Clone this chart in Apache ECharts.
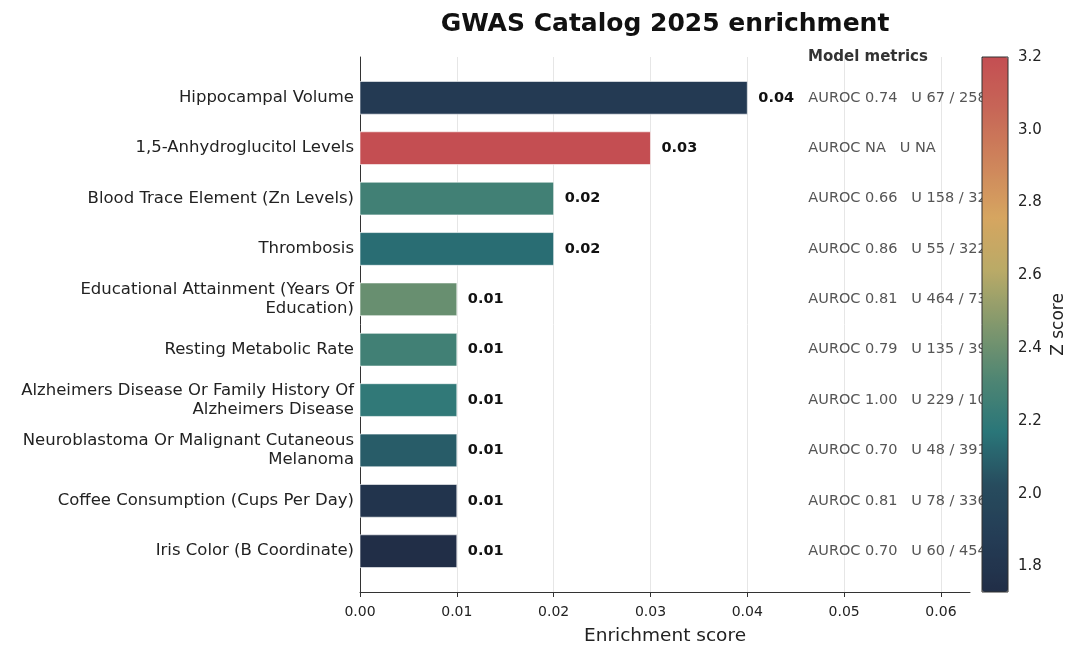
<!DOCTYPE html>
<html>
<head>
<meta charset="utf-8">
<script src="https://cdn.jsdelivr.net/npm/echarts@6/dist/echarts.min.js"></script>
<style>
  html, body { margin: 0; padding: 0; background: #fff; }
  #chart { width: 1080px; height: 658px; }
</style>
</head>
<body>
<div id="chart"></div>
<script>
// data, top bar first
const categories = [
  'Hippocampal Volume',
  '1,5-Anhydroglucitol Levels',
  'Blood Trace Element (Zn Levels)',
  'Thrombosis',
  'Educational Attainment (Years Of\nEducation)',
  'Resting Metabolic Rate',
  'Alzheimers Disease Or Family History Of\nAlzheimers Disease',
  'Neuroblastoma Or Malignant Cutaneous\nMelanoma',
  'Coffee Consumption (Cups Per Day)',
  'Iris Color (B Coordinate)'
]
const enrichment = [0.04, 0.03, 0.02, 0.02, 0.01, 0.01, 0.01, 0.01, 0.01, 0.01]
const zScores = [1.86, 3.2, 2.26, 2.14, 2.39, 2.26, 2.2, 2.08, 1.79, 1.73]
const auroc = ['0.74', 'NA', '0.66', '0.86', '0.81', '0.79', '1.00', '0.70', '0.81', '0.70']
const uCounts = ['67 / 258', 'NA', '158 / 32', '55 / 322', '464 / 73', '135 / 39', '229 / 10', '48 / 391', '78 / 336', '60 / 454']
const xTicks = [0, 0.01, 0.02, 0.03, 0.04, 0.05, 0.06]
const zTicks = [1.8, 2.0, 2.2, 2.4, 2.6, 2.8, 3.0, 3.2]
const zMin = 1.73
const zMax = 3.2

const font = 'DejaVu Sans'
const chart = echarts.init(document.getElementById('chart'))

const barData = categories.map(function (c, i) { return [enrichment[i], i, zScores[i]] })
const metricData = categories.map(function (c, i) { return [0, i] })
const rowIdx = categories.map(function (c, i) { return i })

chart.setOption({
  backgroundColor: '#fff',
  title: [
    {
      text: 'GWAS Catalog 2025 enrichment',
      left: 665,
      top: 12,
      padding: 0,
      textAlign: 'center',
      textStyle: { fontFamily: font, fontSize: 25, fontWeight: 'bold', color: '#111' }
    },
    {
      text: 'Model metrics',
      left: 808,
      top: 50,
      padding: 0,
      textStyle: { fontFamily: font, fontSize: 15, fontWeight: 'bold', color: '#333' }
    }
  ],
  grid: [
    { left: 360, right: 110, top: 57, bottom: 66 },
    { left: 982, width: 26, top: 57, bottom: 66, show: true, z: 6,
      backgroundColor: 'transparent', borderColor: '#333', borderWidth: 1 }
  ],
  xAxis: [
    {
      type: 'value',
      gridIndex: 0,
      min: 0,
      max: 0.063,
      interval: 0.01,
      name: 'Enrichment score',
      nameLocation: 'middle',
      nameGap: 35,
      nameTextStyle: { fontFamily: font, fontSize: 18.5, color: '#222' },
      axisLine: { show: true, onZero: false, lineStyle: { color: '#333', width: 1 } },
      axisTick: { show: true, length: 5, lineStyle: { color: '#333' }, customValues: xTicks },
      axisLabel: {
        customValues: xTicks,
        margin: 13,
        fontFamily: font,
        fontSize: 14,
        color: '#222',
        formatter: function (v) { return v.toFixed(2) }
      },
      splitLine: { show: true, lineStyle: { color: '#e6e6e6', width: 1 } }
    },
    {
      type: 'value',
      gridIndex: 1,
      show: false
    }
  ],
  yAxis: [
    {
      type: 'value',
      gridIndex: 0,
      inverse: true,
      min: -0.81,
      max: 9.81,
      axisLine: { show: true, onZero: false, lineStyle: { color: '#333', width: 1 } },
      axisTick: { show: false },
      axisLabel: {
        customValues: rowIdx,
        margin: 6,
        fontFamily: font,
        fontSize: 16.5,
        lineHeight: 19,
        color: '#222',
        align: 'right',
        formatter: function (v) { return categories[Math.round(v)] }
      },
      splitLine: { show: false }
    },
    {
      type: 'value',
      gridIndex: 1,
      position: 'right',
      min: zMin,
      max: zMax,
      name: 'Z score',
      nameLocation: 'middle',
      nameRotate: 90,
      nameGap: 42,
      nameTextStyle: { fontFamily: font, fontSize: 17, color: '#222' },
      axisLine: { show: false },
      axisTick: { show: true, length: 5, lineStyle: { color: '#333' }, customValues: zTicks },
      axisLabel: {
        customValues: zTicks,
        margin: 10,
        fontFamily: font,
        fontSize: 15,
        color: '#222',
        formatter: function (v) { return v.toFixed(1) }
      },
      splitLine: { show: false }
    }
  ],
  visualMap: {
    type: 'continuous',
    seriesIndex: 0,
    dimension: 2,
    min: zMin,
    max: zMax,
    calculable: false,
    hoverLink: false,
    left: 982,
    top: 57,
    itemWidth: 26,
    itemHeight: 535,
    padding: 0,
    text: ['', ''],
    showLabel: false,
    inRange: {
      color: ['#212e47', '#243c55', '#274c5e', '#2a7679', '#508673', '#82986d',
        '#b9aa67', '#d6a560', '#ce855b', '#c76757', '#c44e52']
    }
  },
  series: [
    {
      type: 'custom',
      xAxisIndex: 0,
      yAxisIndex: 0,
      data: barData,
      encode: { x: 0, y: 1 },
      renderItem: function (params, api) {
        const start = api.coord([0, api.value(1)])
        const end = api.coord([api.value(0), api.value(1)])
        const h = api.size([0, 0.65])[1]
        return {
          type: 'group',
          children: [
            {
              type: 'rect',
              shape: { x: start[0], y: start[1] - h / 2, width: end[0] - start[0], height: h },
              style: { fill: api.visual('color'), stroke: '#ffffff', lineWidth: 0.6 }
            },
            {
              type: 'text',
              x: end[0] + 11,
              y: end[1],
              style: {
                text: api.value(0).toFixed(2),
                fontFamily: font,
                fontSize: 14.5,
                fontWeight: 'bold',
                fill: '#111',
                verticalAlign: 'middle'
              }
            }
          ]
        }
      }
    },
    {
      type: 'custom',
      xAxisIndex: 0,
      yAxisIndex: 0,
      z: 2,
      data: metricData,
      encode: { x: 0, y: 1 },
      renderItem: function (params, api) {
        const i = api.value(1)
        const pos = api.coord([0, i])
        const x = params.coordSys.x + params.coordSys.width * 0.735
        return {
          type: 'text',
          x: x,
          y: pos[1],
          style: {
            text: 'AUROC ' + auroc[i] + '   U ' + uCounts[i],
            fontFamily: font,
            fontSize: 14.5,
            fill: '#555',
            verticalAlign: 'middle'
          }
        }
      }
    }
  ]
})
</script>
</body>
</html>
